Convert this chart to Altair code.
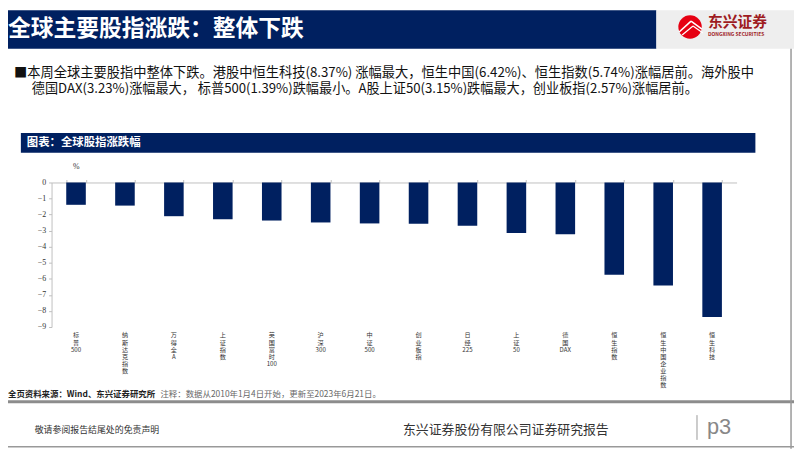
import altair as alt
import pandas as pd

# ---------------- data ----------------
categories = ["标普500", "纳斯达克指数", "万得全A", "上证指数", "英国富时100", "沪深300",
              "中证500", "创业板指", "日经225", "上证50", "德国DAX", "恒生指数",
              "恒生中国企业指数", "恒生科技"]
changes = [-1.39, -1.44, -2.10, -2.29, -2.37, -2.49, -2.55, -2.57, -2.70, -3.15,
           -3.23, -5.74, -6.42, -8.37]
y_ticks = [-9, -8, -7, -6, -5, -4, -3, -2, -1, 0]

page_title = "全球主要股指涨跌：整体下跌"
bullet_lines = [
    "■本周全球主要股指中整体下跌。港股中恒生科技(8.37%) 涨幅最大，恒生中国(6.42%)、恒生指数(5.74%)涨幅居前。海外股中",
    "德国DAX(3.23%)涨幅最大， 标普500(1.39%)跌幅最小。A股上证50(3.15%)跌幅最大，创业板指(2.57%)涨幅居前。",
]
chart_title = "图表：全球股指涨跌幅"
unit_label = "%"
source_text = "全页资料来源：Wind、东兴证券研究所"
note_text = "注释：数据从2010年1月4日开始，更新至2023年6月21日。"
disclaimer = "敬请参阅报告结尾处的免责声明"
company = "东兴证券股份有限公司证券研究报告"
page_no = "p3"
logo_cn = "东兴证券"
logo_en = "DONGXING SECURITIES"

df = pd.DataFrame({"index": categories, "change": changes})

NAVY = "#002060"
CJK = "Noto Sans CJK SC"
SERIF = "Liberation Serif"

# plot-area origin on the page (page margin 8px)
OX, OY = 52, 182
W, H = 692, 146

one = alt.Data(values=[{"k": 0}])


def rect(x1, y1, x2, y2, color):
    return alt.Chart(one).mark_rect(color=color).encode(
        x=alt.value(x1 - OX), x2=alt.value(x2 - OX),
        y=alt.value(y1 - OY), y2=alt.value(y2 - OY))


def rule(x1, y1, x2, y2, color, width=1.0):
    return alt.Chart(one).mark_rule(color=color, strokeWidth=width).encode(
        x=alt.value(x1 - OX), x2=alt.value(x2 - OX),
        y=alt.value(y1 - OY), y2=alt.value(y2 - OY))


def label(x, y, text, size, color, weight="normal", font=CJK, align="left"):
    return alt.Chart(one).mark_text(
        text=text, align=align, baseline="middle", fontSize=size,
        color=color, fontWeight=weight, font=font).encode(
        x=alt.value(x - OX), y=alt.value(y - OY))


decor = [
    # header
    rect(8, 8, 663, 47, NAVY),
    rect(663, 8, 802, 47, "#eeeeee"),
    label(8, 27, page_title, 23, "white", weight="bold"),
    alt.Chart(one).mark_circle(size=560, color="#e60012", opacity=1).encode(
        x=alt.value(697 - OX), y=alt.value(25 - OY)),
    rule(686, 30, 698, 19, "white", 1.6),
    rule(698, 19, 709, 27, "white", 1.6),
    rule(689, 33, 700, 24, "white", 1.2),
    rule(700, 24, 710, 31, "white", 1.2),
    label(715, 20, logo_cn, 15, "#9e1b1f", weight="bold"),
    label(715, 32, logo_en, 5, "#9e1b1f", weight="bold"),
    # bullet text
    label(14, 71, bullet_lines[0], 13.4, "#111111"),
    label(32, 88, bullet_lines[1], 13.3, "#111111"),
    # chart title bar
    rect(21, 132, 763, 152, NAVY),
    label(27, 142, chart_title, 11.5, "white", weight="bold"),
    label(77, 166, unit_label, 8, "#333333", font=SERIF, align="center"),
    # source
    label(8, 396, source_text, 8.5, "#222222", weight="bold"),
    label(162, 396, note_text, 8.5, "#666666"),
    rect(8, 402, 802, 405, "#8c8c8c"),
    # footer
    label(35, 432, disclaimer, 9, "#333333"),
    label(407, 432, company, 13, "#333333"),
    rule(704, 417, 704, 442, "#999999", 1),
    label(714, 429, page_no, 22, "#888888", font="Liberation Sans"),
    # page border
    rule(799, 47, 799, 451, "#999999", 1.5),
    rule(8, 449, 802, 449, "#999999", 1.5),
]

xscale = alt.Scale(paddingInner=0.6, paddingOuter=0.3)

bars = alt.Chart(df).mark_bar(color=NAVY).encode(
    x=alt.X("index:N", sort=categories, scale=xscale,
            axis=alt.Axis(orient="bottom", title=None, domain=False, ticks=False,
                          labelAngle=0, labelFontSize=6.2, labelLineHeight=7.2,
                          labelBaseline="top", labelPadding=5, labelColor="#333333",
                          labelFont=CJK,
                          labelExpr="split(replace(datum.label, regexp('([^A-Za-z0-9])(?!$)', 'g'), '$1|'), '|')")),
    y=alt.Y("change:Q", scale=alt.Scale(domain=[-9, 0], nice=False),
            axis=alt.Axis(title=None, values=y_ticks, format="d", grid=False,
                          labelFont=SERIF, labelFontSize=8, labelColor="#333333",
                          domainColor="#bfbfbf", tickColor="#bfbfbf", tickSize=3,
                          labelPadding=3)),
)

top_axis = alt.Chart(df).mark_tick(opacity=0).encode(
    x=alt.X("index:N", sort=categories, scale=xscale,
            axis=alt.Axis(orient="top", title=None, labels=False,
                          domainColor="#bfbfbf", tickColor="#bfbfbf", tickSize=3,
                          tickBand="extent")),
    y=alt.value(0),
)

chart = alt.layer(*decor, bars, top_axis).resolve_axis(x="independent").properties(
    width=W, height=H,
    autosize=alt.AutoSizeParams(type="none"),
    padding={"left": OX - 8, "top": OY - 8, "right": 794 - (OX - 8) - W,
             "bottom": 443 - (OY - 8) - H},
    background="white",
).configure_view(stroke=None)

chart.save("out.html", embed_options={"renderer": "svg", "actions": False})
